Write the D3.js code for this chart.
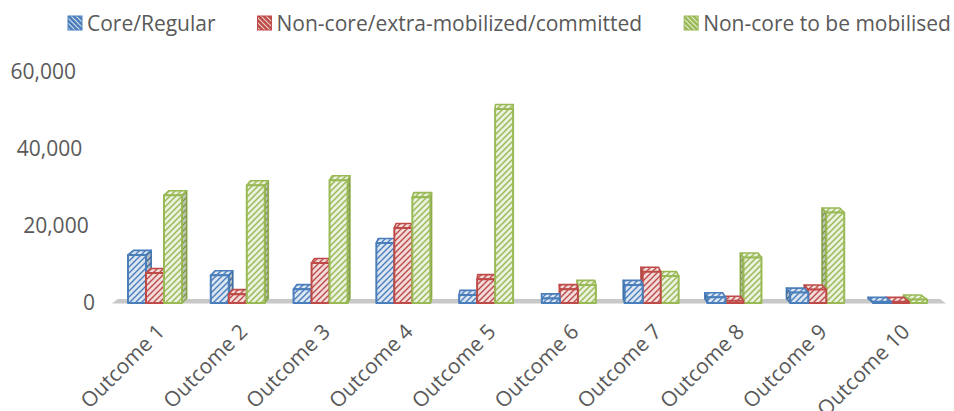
<!DOCTYPE html>
<html><head><meta charset="utf-8">
<script src="https://cdn.jsdelivr.net/npm/d3@7"></script>
<style>
body{margin:0;background:#fff}
svg{display:block}
text{font-family:"Open Sans",sans-serif;fill:#595959}
</style>
</head><body>
<svg id="chart" width="954" height="411"></svg>
<script>
// ---- data ----
const categories = ["Outcome 1","Outcome 2","Outcome 3","Outcome 4","Outcome 5","Outcome 6","Outcome 7","Outcome 8","Outcome 9","Outcome 10"];
const seriesNames = ["Core/Regular","Non-core/extra-mobilized/committed","Non-core to be mobilised"];
const coreRegular       = [12500, 7200, 3600, 15600, 2100, 1200, 4700, 1500, 2700, 300];
const nonCoreCommitted  = [7800, 2300, 10400, 19500, 6200, 3600, 8100, 600, 3500, 300];
const nonCoreToMobilise = [28000, 30600, 31900, 27500, 50400, 4700, 7000, 11800, 23500, 900];
const yTicks = [0, 20000, 40000, 60000];

const seriesValues = [coreRegular, nonCoreCommitted, nonCoreToMobilise];
const lineColors = ["#4a7ebb", "#be4b48", "#98b954"];
const bgColors   = ["#dce6f2", "#f2dcdb", "#ebf1de"];

const svg = d3.select("#chart");
const defs = svg.append("defs");

// hatch patterns
seriesNames.forEach((s, i) => {
  const p = defs.append("pattern").attr("id", "h" + i)
    .attr("patternUnits", "userSpaceOnUse").attr("width", 6).attr("height", 6);
  p.append("rect").attr("width", 6).attr("height", 6).attr("fill", bgColors[i]);
  p.append("path").attr("d", "M0,6L6,0M-1,1L1,-1M5,7L7,5")
    .attr("stroke", lineColors[i]).attr("stroke-width", 1.4);
  const q = defs.append("pattern").attr("id", "l" + i)
    .attr("patternUnits", "userSpaceOnUse").attr("width", 5).attr("height", 5);
  q.append("rect").attr("width", 5).attr("height", 5).attr("fill", lineColors[i]);
  q.append("path").attr("d", "M0,0L5,5M-1,4L1,6M4,-1L6,1")
    .attr("stroke", "#ffffff").attr("stroke-opacity", 0.75).attr("stroke-width", 1.1);
});

// scales
const y = d3.scaleLinear().domain([0, 60000]).range([303, 72]);
const labelX = d3.scaleLinear().domain([0, 60000]).range([95, 76]);
const x0 = d3.scaleBand().domain(categories).range([113.6, 941.4]).padding(0);
const clusterW = 54;
const x1 = d3.scaleBand().domain(seriesNames)
  .range([(x0.bandwidth() - clusterW) / 2, (x0.bandwidth() + clusterW) / 2]).padding(0);

// pseudo-3D depth
const vx = 520, kx = 0.014, dz = 4.5;
const back = (px, py) => [px + (vx - px) * kx, py - dz];

// floor
const fl = 112, fr = 946, fy = 303.5;
const bl = back(fl, fy), br = back(fr, fy);
svg.append("polygon")
  .attr("points", [[fl, fy], [fr, fy], br, bl].map(p => p.join(",")).join(" "))
  .attr("fill", "#c8c8c8");

// y labels
svg.append("g").selectAll("text").data(yTicks).join("text")
  .attr("x", d => labelX(d)).attr("y", d => y(d)).attr("dy", "0.35em")
  .attr("text-anchor", "end").attr("font-size", 21)
  .text(d => d3.format(",")(d));

// bars
const bars = [];
categories.forEach((c, ci) => {
  seriesNames.forEach((s, si) => {
    const xa = x0(c) + x1(s), xb = xa + x1.bandwidth();
    bars.push({ci, si, xa, xb, yt: y(seriesValues[si][ci]), yb: y(0)});
  });
});
bars.sort((a, b) => Math.abs(vx - (b.xa + b.xb) / 2) - Math.abs(vx - (a.xa + a.xb) / 2));

const gBars = svg.append("g");
const pts = arr => arr.map(p => p.join(",")).join(" ");
bars.forEach(b => {
  const g = gBars.append("g");
  const col = lineColors[b.si];
  const ftl = [b.xa, b.yt], ftr = [b.xb, b.yt], fbl = [b.xa, b.yb], fbr = [b.xb, b.yb];
  const btl = back(b.xa, b.yt), btr = back(b.xb, b.yt), bbl = back(b.xa, b.yb), bbr = back(b.xb, b.yb);
  const side = (b.xa + b.xb) / 2 < vx ? [ftr, fbr, bbr, btr] : [ftl, fbl, bbl, btl];
  [side].forEach(poly => {
    g.append("polygon").attr("points", pts(poly)).attr("fill", "url(#h" + b.si + ")")
      .attr("stroke", col).attr("stroke-width", 1.6).attr("stroke-linejoin", "round");
    g.append("polygon").attr("points", pts(poly)).attr("fill", "#000").attr("fill-opacity", 0.18);
  });
  g.append("polygon").attr("points", pts([ftl, ftr, btr, btl])).attr("fill", "url(#h" + b.si + ")")
    .attr("stroke", col).attr("stroke-width", 1.6).attr("stroke-linejoin", "round");
  g.append("polygon").attr("points", pts([ftl, ftr, fbr, fbl])).attr("fill", "url(#h" + b.si + ")")
    .attr("stroke", col).attr("stroke-width", 2).attr("stroke-linejoin", "round");
});

// x labels
svg.append("g").selectAll("text").data(categories).join("text")
  .attr("transform", d => `translate(${x0(d) + x0.bandwidth() / 2 + 11},333) rotate(-45)`)
  .attr("text-anchor", "end").attr("font-size", 21)
  .text(d => d);

// legend
const leg = svg.append("g");
let lx = 68;
seriesNames.forEach((s, i) => {
  leg.append("rect").attr("x", lx).attr("y", 16).attr("width", 14).attr("height", 14)
    .attr("fill", "url(#l" + i + ")").attr("stroke", lineColors[i]).attr("stroke-width", 1);
  const t = leg.append("text").attr("x", lx + 19).attr("y", 31).attr("font-size", 21).text(s);
  lx = lx + 19 + t.node().getComputedTextLength() + 42;
});
</script>
</body></html>
